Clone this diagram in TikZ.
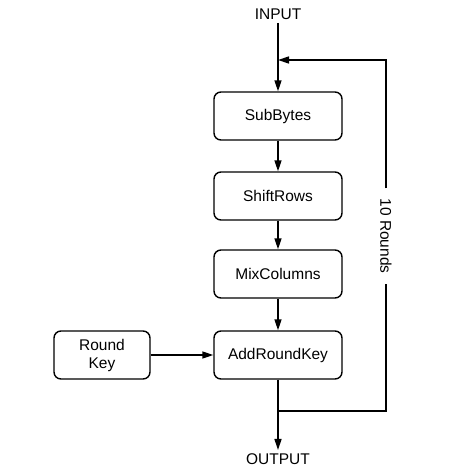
\documentclass[tikz,border=0pt]{standalone}
\usepackage{fontspec}
\setmainfont{Liberation Sans}
\usetikzlibrary{arrows.meta}
\tikzset{
    kasten/.style={draw, line width=1.4pt, rounded corners=7pt, minimum width=128pt,
        minimum height=48pt, align=center, font=\fontsize{15.5}{18}\selectfont},
    schrift/.style={font=\fontsize{15.5}{18}\selectfont},
    pfeil/.style={line width=1.4pt, -{Triangle[length=11pt,width=7pt]}},
    linie/.style={line width=1.4pt}
}
\begin{document}
\begin{tikzpicture}[x=1pt, y=-1pt]
            \useasboundingbox (0,0) rectangle (474,472);
            % Kaesten
            \node[schrift] (input) at (278,14) {INPUT};
            \node[kasten] (subbytes) at (278,116) {SubBytes};
            \node[kasten] (shiftrows) at (278,196) {ShiftRows};
            \node[kasten] (mixcolumns) at (278,274) {MixColumns};
            \node[kasten] (addroundkey) at (278,355) {AddRoundKey};
            \node[kasten, minimum width=96pt] (roundkey) at (102,355) {Round\\Key};
            \node[schrift] (output) at (278,459) {OUTPUT};
            \node[schrift, rotate=-90, inner xsep=10pt] (rounds) at (386,236) {10 Rounds};
            % Hilfspunkte
            \coordinate (rueck) at (278,60);
            \coordinate (abzweig) at (278,411);
            % Pfeile
            \draw[pfeil] (input) -- (subbytes);
            \draw[pfeil] (subbytes) -- (shiftrows);
            \draw[pfeil] (shiftrows) -- (mixcolumns);
            \draw[pfeil] (mixcolumns) -- (addroundkey);
            \draw[pfeil] (roundkey) -- (addroundkey);
            \draw[pfeil] (addroundkey) -- (output);
            % Schleife
            \draw[linie] (abzweig) -| (rounds.east);
            \draw[pfeil] (rounds.west) |- (rueck);
        \end{tikzpicture}
\end{document}
